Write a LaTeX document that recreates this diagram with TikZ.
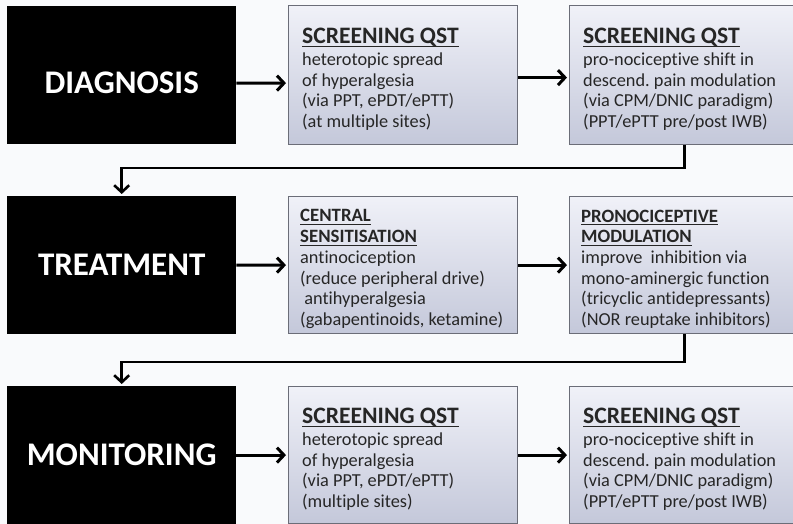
\documentclass[tikz,border=0pt]{standalone}
\usepackage{fontspec}
\setmainfont{Carlito}[Ligatures=NoCommon]
\usetikzlibrary{arrows.meta}
\frenchspacing
\definecolor{pagebg}{HTML}{F9FAFC}
\definecolor{boxtop}{HTML}{F0F1F8}
\definecolor{boxbot}{HTML}{C4C8DA}
\definecolor{boxline}{HTML}{6B6D78}
\definecolor{ink}{HTML}{262626}
% underlined heading with a rule at a fixed depth
\newcommand\headline[1]{\setbox0=\hbox{#1}\rlap{\rule[-3.4pt]{\wd0}{1.2pt}}\box0}
\newcommand\bighead[1]{{\fontsize{23.6}{24}\selectfont\bfseries\headline{#1}}}
\newcommand\smallhead[1]{{\fontsize{18.8}{20.7}\selectfont\bfseries\headline{#1}}}
\begin{document}
\begin{tikzpicture}[x=1pt,y=-1pt,
  stage/.style={fill=black, draw=none, minimum width=229pt, anchor=north west, inner sep=0pt},
  stagetext/.style={text=white, font=\fontsize{33}{37}\selectfont\bfseries, inner sep=0pt},
  panel/.style={draw=boxline, line width=1.2pt, top color=boxtop, bottom color=boxbot,
    minimum width=229pt, anchor=north west, inner sep=0pt},
  paneltext/.style={text=ink, font=\fontsize{18.3}{20.7}\selectfont, align=left, anchor=west, inner sep=0pt},
  flow/.style={line width=3pt, -{Straight Barb[length=7pt,width=15pt]}, shorten >=2pt},
  elbow/.style={line width=2.6pt, -{Straight Barb[length=7pt,width=15pt]}, shorten >=2pt}
]
\clip (0,0) rectangle (793,524);
\fill[pagebg] (0,0) rectangle (793,524);

% stage boxes
\node[stage, minimum height=138pt] (d1) at (7,6) {};
\node[stage, minimum height=138pt] (d2) at (7,196) {};
\node[stage, minimum height=150pt] (d3) at (7,386) {};
\node[stagetext] (d1t) at ([yshift=-8pt]d1.center) {DIAGNOSIS};
\node[stagetext] (d2t) at (d2.center) {TREATMENT};

% panels
\node[panel, minimum height=139pt] (b1) at (288,5) {};
\node[panel, minimum height=139pt, minimum width=230pt] (b2) at (569,5) {};
\node[panel, minimum height=137pt] (b3) at (288,196) {};
\node[panel, minimum height=137pt, minimum width=230pt] (b4) at (569,196) {};
\node[panel, minimum height=137pt] (b5) at (288,386) {};
\node[panel, minimum height=137pt, minimum width=230pt] (b6) at (569,386) {};
\node[stagetext] (d3t) at (b5.west -| d3.center) {MONITORING};

\node[paneltext] (b1t) at ([xshift=14pt,yshift=-4pt]b1.west) {\bighead{SCREENING QST}\\[1.3pt]
  heterotopic spread\\ of hyperalgesia\\ (via PPT, ePDT/ePTT)\\ (at multiple sites)};
\node[paneltext] (b2t) at ([xshift=14pt,yshift=-4pt]b2.west) {\bighead{SCREENING QST}\\[1.3pt]
  pro-nociceptive shift in\\ descend. pain modulation\\ (via CPM/DNIC paradigm)\\ (PPT/ePTT pre/post IWB)};
\node[paneltext] (b3t) at ([xshift=12pt,yshift=-4pt]b3.west) {\smallhead{CENTRAL}\\ \smallhead{SENSITISATION}\\
  antinociception\\ (reduce peripheral drive)\\ \ antihyperalgesia\\ (gabapentinoids, ketamine)};
\node[paneltext] (b4t) at ([xshift=12pt,yshift=-4pt]b4.west) {\smallhead{PRONOCICEPTIVE}\\ \smallhead{MODULATION}\\
  improve\ \ inhibition via\\ mono-aminergic function\\ (tricyclic antidepressants)\\ (NOR reuptake inhibitors)};
\node[paneltext] (b5t) at ([xshift=14pt,yshift=-4pt]b5.west) {\bighead{SCREENING QST}\\[1.3pt]
  heterotopic spread\\ of hyperalgesia\\ (via PPT, ePDT/ePTT)\\ (multiple sites)};
\node[paneltext] (b6t) at ([xshift=14pt,yshift=-4pt]b6.west) {\bighead{SCREENING QST}\\[1.3pt]
  pro-nociceptive shift in\\ descend. pain modulation\\ (via CPM/DNIC paradigm)\\ (PPT/ePTT pre/post IWB)};

% horizontal flow arrows
\draw[flow] ([yshift=-8pt]d1.east) -- ([yshift=-8pt]b1.west);
\draw[flow] ([yshift=-2.5pt]b1.east) -- ([yshift=-2.5pt]b2.west);
\draw[flow] (d2.east) -- (b3.west);
\draw[flow] (b3.east) -- (b4.west);
\draw[flow] (b5.west -| d3.east) -- (b5.west);
\draw[flow] (b5.east) -- (b6.west);

% row-to-row connectors
\coordinate (k1) at (400,168);
\coordinate (k2) at (400,362);
\draw[elbow] (b2.south) |- (k1) -| (d2.north);
\draw[elbow] (b4.south) |- (k2) -| (d3.north);
\end{tikzpicture}
\end{document}
